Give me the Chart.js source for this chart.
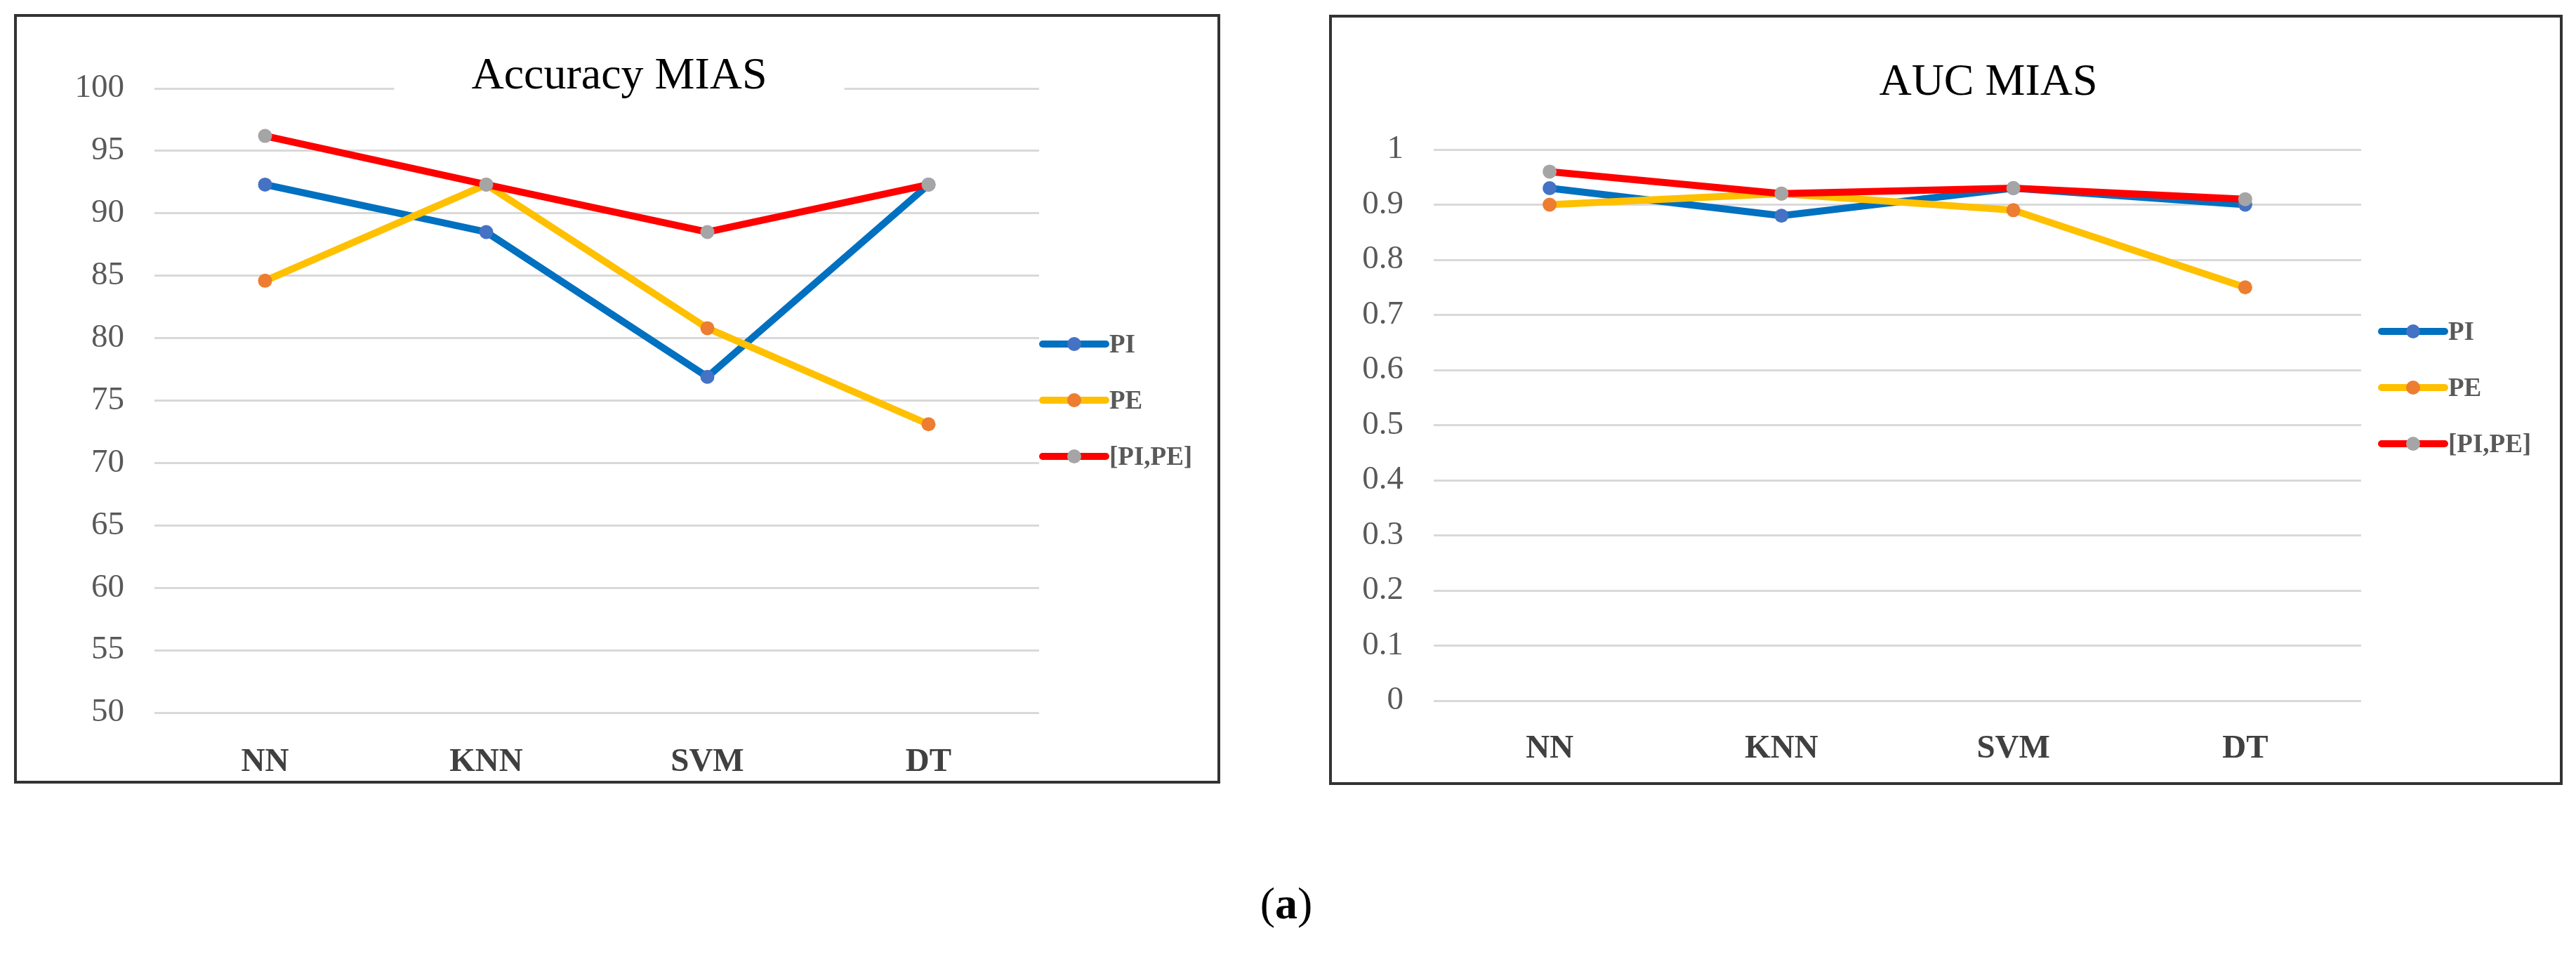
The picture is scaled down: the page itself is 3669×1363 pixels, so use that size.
<!DOCTYPE html>
<html>
<head>
<meta charset="utf-8">
<script src="https://cdn.jsdelivr.net/npm/chart.js@4.4.1/dist/chart.umd.min.js"></script>
<style>
    html, body { margin: 0; padding: 0; background: #fff; }
    body { width: 3669px; height: 1363px; position: relative; overflow: hidden; }
    .box { position: absolute; box-sizing: border-box; border: 4px solid #333; background: #fff; }
    .box canvas { display: block; }
    #caption {
        position: absolute; left: 1732px; top: 1250px; width: 200px;
        text-align: center; font: 64px 'Liberation Serif', serif; color: #000;
    }
</style>
</head>
<body>
<div class="box" id="box-acc" style="left:20px; top:20px; width:1718px; height:1096px;">
    <canvas id="acc-chart"></canvas>
</div>
<div class="box" id="box-auc" style="left:1893px; top:21px; width:1757px; height:1097px;">
    <canvas id="auc-chart"></canvas>
</div>
<div id="caption">(<b>a</b>)</div>

<script>
/**
 * MIAS results - accuracy and AUC per classifier
 */

const categories = ['NN', 'KNN', 'SVM', 'DT'];
const seriesNames = ['PI', 'PE', '[PI,PE]'];

const accPI   = [92.3, 88.5, 76.9, 92.3];
const accPE   = [84.6, 92.3, 80.8, 73.1];
const accBoth = [96.2, 92.3, 88.5, 92.3];

const aucPI   = [0.93, 0.88, 0.93, 0.90];
const aucPE   = [0.90, 0.92, 0.89, 0.75];
const aucBoth = [0.96, 0.92, 0.93, 0.91];

const lineColors = ['#0070C0', '#FFC000', '#FF0000'];
const markerColors = ['#4472C4', '#ED7D31', '#A5A5A5'];

const fontFamily = "'Liberation Serif', 'Times New Roman', serif";
const tickGrey = '#595959';
const gridGrey = '#d9d9d9';

Chart.defaults.font.family = fontFamily;
Chart.defaults.color = tickGrey;

/**
 * Title with a white patch behind it (covers the top gridline like the original)
 */
const boxTitle = {
    id: 'boxTitle',
    afterDatasetsDraw(chart, args, opts) {
        const ctx = chart.ctx;
        ctx.save();
        ctx.font = `${opts.size}px ${fontFamily}`;
        const w = ctx.measureText(opts.text).width;
        ctx.fillStyle = '#fff';
        ctx.fillRect(opts.x - w / 2 - opts.pad, opts.y - opts.size * 0.6, w + opts.pad * 2, opts.size * 1.2);
        ctx.fillStyle = '#000';
        ctx.textAlign = 'center';
        ctx.textBaseline = 'middle';
        ctx.fillText(opts.text, opts.x, opts.y);
        ctx.restore();
    }
};

/**
 * Excel style legend: line with a marker in the middle, text on the right
 */
const sideLegend = {
    id: 'sideLegend',
    afterDraw(chart, args, opts) {
        const ctx = chart.ctx;
        const area = chart.chartArea;
        ctx.save();
        chart.data.datasets.forEach((ds, i) => {
            const x0 = area.right + opts.dx;
            const y = opts.y + i * opts.gap;
            ctx.strokeStyle = ds.borderColor;
            ctx.lineWidth = ds.borderWidth;
            ctx.lineCap = 'round';
            ctx.beginPath();
            ctx.moveTo(x0, y);
            ctx.lineTo(x0 + opts.len, y);
            ctx.stroke();
            ctx.fillStyle = ds.pointBackgroundColor;
            ctx.beginPath();
            ctx.arc(x0 + opts.len / 2, y, ds.pointRadius, 0, Math.PI * 2);
            ctx.fill();
            ctx.fillStyle = tickGrey;
            ctx.font = `bold ${opts.size}px ${fontFamily}`;
            ctx.textAlign = 'left';
            ctx.textBaseline = 'middle';
            ctx.fillText(ds.label, x0 + opts.len + 5, y + 2);
        });
        ctx.restore();
    }
};

function makeDatasets(values) {
    return values.map((v, i) => ({
        label: seriesNames[i],
        data: v,
        borderColor: lineColors[i],
        backgroundColor: lineColors[i],
        pointBackgroundColor: markerColors[i],
        pointBorderWidth: 0,
        pointRadius: 10,
        borderWidth: 10,
        tension: 0,
        order: 3 - i
    }));
}

function makeChart(id, values, cfg) {
    return new Chart(document.getElementById(id), {
        type: 'line',
        data: { labels: categories, datasets: makeDatasets(values) },
        plugins: [boxTitle, sideLegend],
        options: {
            responsive: true,
            maintainAspectRatio: false,
            animation: false,
            devicePixelRatio: 1,
            layout: { padding: { top: cfg.top, right: cfg.right, left: 0, bottom: 0 } },
            plugins: {
                legend: { display: false },
                tooltip: { enabled: false },
                boxTitle: cfg.title,
                sideLegend: cfg.legend
            },
            scales: {
                x: {
                    offset: true,
                    grid: { display: false },
                    border: { display: false },
                    ticks: { padding: cfg.xPad, color: '#404040', font: { size: 47, weight: 'bold' } },
                    afterFit: s => { s.height = cfg.xHeight; }
                },
                y: {
                    min: cfg.min,
                    max: cfg.max,
                    grid: { color: gridGrey, lineWidth: 3, drawTicks: false },
                    border: { display: false },
                    ticks: {
                        stepSize: cfg.step,
                        padding: 43,
                        color: tickGrey,
                        font: { size: 47 },
                        callback: v => String(Math.round(v * 10) / 10)
                    },
                    afterFit: s => { s.width = cfg.yWidth; }
                }
            }
        }
    });
}

makeChart('acc-chart', [accPI, accPE, accBoth], {
    min: 50, max: 100, step: 5,
    top: 102, right: 254, yWidth: 196, xHeight: 97, xPad: 35,
    title: { text: 'Accuracy MIAS', size: 64, x: 858, y: 85, pad: 110 },
    legend: { dx: 5, len: 90, y: 466, gap: 80, size: 37 }
});

makeChart('auc-chart', [aucPI, aucPE, aucBoth], {
    min: 0, max: 1, step: 0.1,
    top: 188, right: 283, yWidth: 145, xHeight: 116, xPad: 33,
    title: { text: 'AUC MIAS', size: 64, x: 935, y: 93, pad: 110 },
    legend: { dx: 29, len: 90, y: 447, gap: 80, size: 37 }
});
</script>
</body>
</html>
